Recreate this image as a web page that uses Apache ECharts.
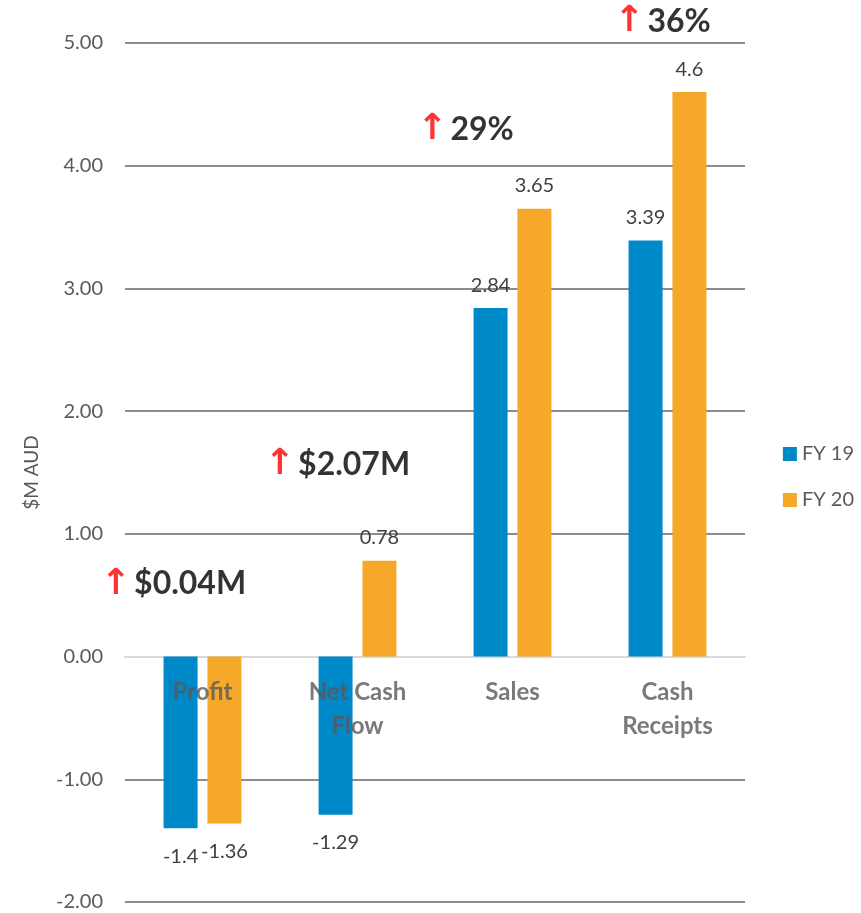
<!DOCTYPE html>
<html>
<head>
<meta charset="utf-8">
<script src="https://cdn.jsdelivr.net/npm/echarts@6/dist/echarts.min.js"></script>
<style>
  html, body { margin: 0; padding: 0; background: #fff; }
  #chart { width: 861px; height: 913px; }
</style>
</head>
<body>
<div id="chart"></div>
<script>
// chart data
const categories = ['Profit', 'Net Cash\nFlow', 'Sales', 'Cash\nReceipts'];
const fy19 = [-1.4, -1.29, 2.84, 3.39];
const fy20 = [-1.36, 0.78, 3.65, 4.6];
const yTicks = [-2, -1, 0, 1, 2, 3, 4, 5];

// change call-outs above each group
const annoText = ['$0.04M', '$2.07M', '29%', '36%'];
const annoY = [0.59, 1.56, 4.29, 5.17];
const annoShift = [-29, -20, -47, -5];

const font = 'Lato, "Open Sans", sans-serif';

const chart = echarts.init(document.getElementById('chart'));

// negative bars get the label underneath
const barData = (vals) => vals.map(v => ({
  value: v,
  label: v < 0 ? { position: 'bottom', distance: 18 } : { position: 'top', distance: 13 }
}));

chart.setOption({
  animation: false,
  textStyle: { fontFamily: font },
  grid: { left: 125, right: 116, top: 43, bottom: 11, containLabel: false, outerBoundsMode: 'none' },
  legend: {
    orient: 'vertical',
    right: 2,
    top: 439,
    itemWidth: 14,
    itemHeight: 14,
    itemGap: 26,
    icon: 'rect',
    data: ['FY 19', 'FY 20'],
    textStyle: { fontSize: 20, color: '#595959', fontFamily: font }
  },
  xAxis: {
    type: 'category',
    data: categories,
    axisTick: { show: false },
    axisLine: { onZero: true, lineStyle: { color: '#d9d9d9', width: 2 } },
    axisLabel: { show: false }
  },
  yAxis: {
    type: 'value',
    min: yTicks[0],
    max: yTicks[yTicks.length - 1],
    interval: 1,
    name: '$M AUD',
    nameLocation: 'middle',
    nameGap: 84,
    nameRotate: 90,
    nameTextStyle: { fontSize: 19, color: '#595959', fontFamily: font },
    axisLine: { show: false },
    axisTick: { show: false },
    axisLabel: {
      margin: 22,
      fontSize: 20,
      color: '#595959',
      fontFamily: font,
      formatter: v => v.toFixed(2)
    },
    splitLine: { lineStyle: { color: '#8c8c8c', width: 2 } }
  },
  series: [
    {
      name: 'FY 19',
      type: 'bar',
      barWidth: 34,
      barGap: '29%',
      itemStyle: { color: '#0089c9' },
      label: { show: true, fontSize: 20, color: '#404040', fontFamily: font },
      data: barData(fy19)
    },
    {
      name: 'FY 20',
      type: 'bar',
      barWidth: 34,
      itemStyle: { color: '#f5a82a' },
      label: { show: true, fontSize: 20, color: '#404040', fontFamily: font },
      data: barData(fy20)
    },
    {
      // category names sit just under the zero line, over the bars
      name: 'categories',
      type: 'scatter',
      symbolSize: 0,
      z: 20,
      silent: true,
      label: {
        show: true,
        position: 'bottom',
        distance: 19,
        fontSize: 24,
        fontWeight: 'bold',
        lineHeight: 34,
        color: '#595959',
        fontFamily: font,
        formatter: p => categories[p.dataIndex]
      },
      data: categories.map((c, i) => [i, 0])
    },
    {
      name: 'change',
      type: 'scatter',
      symbolSize: 0,
      clip: false,
      z: 20,
      silent: true,
      data: annoText.map((t, i) => ({
        value: [i, annoY[i]],
        label: {
          show: true,
          position: 'inside',
          color: '#000',
          offset: [annoShift[i], 0],
          formatter: '{a|\u2191} {b|' + t + '}',
          rich: {
            a: { color: '#ff0000', fontSize: 36, fontWeight: 'bold', fontFamily: 'DejaVu Sans' },
            b: { color: '#000000', fontSize: 32, fontWeight: 'bold', fontFamily: font }
          }
        }
      }))
    }
  ]
});

window.addEventListener('resize', () => chart.resize());
</script>
</body>
</html>
